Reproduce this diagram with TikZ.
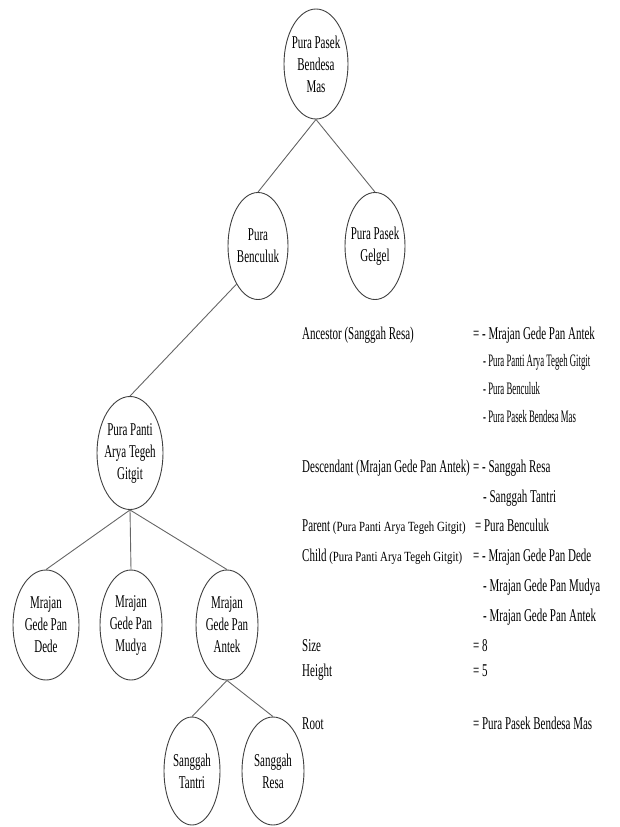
\documentclass[tikz,border=0pt]{standalone}
\usepackage{fontspec}
\setmainfont{Liberation Serif}[FakeStretch=0.61]
\newfontfamily\narrowfont{Liberation Serif}[FakeStretch=0.50]
\newfontfamily\parenfont{Liberation Serif}[FakeStretch=0.77]
\usetikzlibrary{shapes.geometric, positioning}

\begin{document}
\begin{tikzpicture}[x=1pt, y=-1pt,
        tnode/.style={ellipse, draw=black!75, line width=0.9pt, inner sep=0pt, minimum width=62pt, minimum height=110pt},
        lbl/.style={align=center, inner sep=0pt, font=\fontsize{18}{22}\selectfont},
        link/.style={draw=black!60, line width=0.9pt},
        info/.style={anchor=base west, inner sep=0pt, font=\fontsize{18}{22}\selectfont},
        infonarrow/.style={anchor=base west, inner sep=0pt, font=\narrowfont\fontsize{17.5}{20}\selectfont}
    ]
        \useasboundingbox (0,0) rectangle (620,827);

        % Tree of temples
        \node[tnode, minimum width=64pt, label={[lbl]center:{Pura Pasek\\Bendesa\\Mas}}] (root) at (316,64) {};
        \node[tnode, minimum width=60pt, minimum height=107pt, label={[lbl]center:{Pura\\Benculuk}}] (benculuk) at (258,246) {};
        \node[tnode, minimum width=60pt, minimum height=107pt, label={[lbl]center:{Pura Pasek\\Gelgel}}] (gelgel) at (375,246) {};
        \node[tnode, minimum width=66pt, minimum height=113pt, label={[lbl]center:{Pura Panti\\Arya Tegeh\\Gitgit}}] (gitgit) at (130,453) {};
        \node[tnode, minimum width=66pt, label={[lbl]center:{Mrajan\\Gede Pan\\Dede}}] (dede) at (46,625) {};
        \node[tnode, label={[lbl]center:{Mrajan\\Gede Pan\\Mudya}}] (mudya) at (131,625) {};
        \node[tnode, label={[lbl]center:{Mrajan\\Gede Pan\\Antek}}] (antek) at (227,625) {};
        \node[tnode, minimum width=56pt, minimum height=108pt, label={[lbl]center:{Sanggah\\Tantri}}] (tantri) at (192,771) {};
        \node[tnode, minimum height=108pt, label={[lbl]center:{Sanggah\\Resa}}] (resa) at (273,771) {};

        % Branches
        \draw[link] (root.south) -- (benculuk.north);
        \draw[link] (root.south) -- (gelgel.north);
        \draw[link] (benculuk.south west) -- (gitgit.north);
        \draw[link] (gitgit.south) -- (dede.north);
        \draw[link] (gitgit.south) -- (mudya.north);
        \draw[link] (gitgit.south) -- (antek.north);
        \draw[link] (antek.south) -- (tantri.north);
        \draw[link] (antek.south) -- (resa.north);

        % Tree terms
        \node[info] (anc) at (302,339) {Ancestor (Sanggah Resa)};
        \node[info] (ancA) at (473,339) {= - Mrajan Gede Pan Antek};
        \node[infonarrow] (ancB) at (483,366) {- Pura Panti Arya Tegeh Gitgit};
        \node[infonarrow] (ancC) at (483,394) {- Pura Benculuk};
        \node[infonarrow] (ancD) at (483,422) {- Pura Pasek Bendesa Mas};

        \node[info] (desc) at (302,472) {Descendant (Mrajan Gede Pan Antek)};
        \node[info] (descA) at (473,472) {= - Sanggah Resa};
        \node[info] (descB) at (483,502) {- Sanggah Tantri};

        \node[info] (par) at (302,531) {Parent {\parenfont\fontsize{14}{16}\selectfont (Pura Panti Arya Tegeh Gitgit)}};
        \node[info] (parA) at (475,531) {= Pura Benculuk};

        \node[info] (chi) at (302,561) {Child {\parenfont\fontsize{14}{16}\selectfont (Pura Panti Arya Tegeh Gitgit)}};
        \node[info] (chiA) at (473,561) {= - Mrajan Gede Pan Dede};
        \node[info] (chiB) at (483,591) {- Mrajan Gede Pan Mudya};
        \node[info] (chiC) at (483,621) {- Mrajan Gede Pan Antek};

        \node[info] (size) at (302,651) {Size};
        \node[info] (sizeA) at (473,651) {= 8};
        \node[info] (hgt) at (302,676) {Height};
        \node[info] (hgtA) at (473,676) {= 5};
        \node[info] (rt) at (302,729) {Root};
        \node[info] (rtA) at (473,729) {= Pura Pasek Bendesa Mas};
    \end{tikzpicture}
\end{document}
